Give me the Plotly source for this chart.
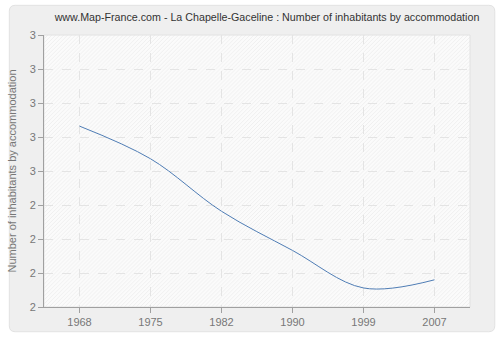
import base64
import plotly.graph_objects as go

# Census years and average number of inhabitants per accommodation
years = ["1968", "1975", "1982", "1990", "1999", "2007"]
inhabitants = [2.665, 2.545, 2.352, 2.208, 2.07, 2.10]

# Y axis ticks (labels are rounded to whole numbers)
y_ticks = [2.0, 2.125, 2.25, 2.375, 2.5, 2.625, 2.75, 2.875, 3.0]
y_labels = ["2", "2", "2", "2", "3", "3", "3", "3", "3"]

W, H = 500, 340
ML, MR, MT, MB = 40, 30, 35, 30
PW, PH = W - ML - MR, H - MT - MB
FONT = "Liberation Sans"


def px_x(px):
    return (px - ML) / PW


def px_y(py):
    return (H - MB - py) / PH


# Faint diagonal hatching for the plotting area
hatch_svg = (
    '<svg xmlns="http://www.w3.org/2000/svg" width="430" height="275">'
    '<defs><pattern id="h" width="4" height="4" patternUnits="userSpaceOnUse">'
    '<rect width="4" height="4" fill="#fbfbfb"/>'
    '<path d="M-1,1 l2,-2 M0,4 l4,-4 M3,5 l2,-2" stroke="#efefef" stroke-width="1"/>'
    '</pattern></defs><rect width="430" height="275" fill="url(#h)"/></svg>'
)
hatch_src = "data:image/svg+xml;base64," + base64.b64encode(hatch_svg.encode()).decode()

fig = go.Figure()
fig.add_trace(go.Scatter(
    x=years, y=inhabitants, mode="lines",
    line=dict(color="#4f7db5", width=1, shape="spline", smoothing=1.0),
    hoverinfo="x+y", showlegend=False,
))

# Rounded outer frame with a hole where the plotting area sits
x0, x1 = px_x(5), px_x(495)
y0, y1 = px_y(335), px_y(5)
rx, ry = 6 / PW, 6 / PH
frame = (
    f"M{x0 + rx},{y0} L{x1 - rx},{y0} Q{x1},{y0} {x1},{y0 + ry} "
    f"L{x1},{y1 - ry} Q{x1},{y1} {x1 - rx},{y1} L{x0 + rx},{y1} "
    f"Q{x0},{y1} {x0},{y1 - ry} L{x0},{y0 + ry} Q{x0},{y0} {x0 + rx},{y0} Z "
    "M0,0 L0,1 L1,1 L1,0 Z"
)

fig.update_layout(
    width=W, height=H,
    margin=dict(l=ML, r=MR, t=MT, b=MB),
    paper_bgcolor="white",
    plot_bgcolor="rgba(0,0,0,0)",
    title=dict(
        text="www.Map-France.com - La Chapelle-Gaceline : Number of inhabitants by accommodation",
        x=267 / W, xanchor="center", y=1 - 17 / H, yanchor="middle",
        font=dict(family=FONT, size=10.7, color="#333333"),
    ),
    shapes=[dict(
        type="path", path=frame, xref="paper", yref="paper", layer="below",
        fillcolor="#efefef", line=dict(color="#e2e2e2", width=1),
    )],
    images=[dict(
        source=hatch_src, xref="paper", yref="paper", x=0, y=1,
        sizex=1, sizey=1, xanchor="left", yanchor="top",
        sizing="stretch", layer="below",
    )],
    xaxis=dict(
        type="category", range=[-0.5, 5.5],
        showgrid=True, gridcolor="#e4e4e4", griddash="dash", gridwidth=1,
        showline=True, linecolor="#a0a0a0", linewidth=1,
        ticks="outside", ticklen=5, tickcolor="#a0a0a0",
        tickfont=dict(family=FONT, size=11, color="#777777"),
        zeroline=False, fixedrange=True,
    ),
    yaxis=dict(
        range=[2.0, 3.0], tickvals=y_ticks, ticktext=y_labels,
        showgrid=True, gridcolor="#e4e4e4", griddash="dash", gridwidth=1,
        showline=True, linecolor="#a0a0a0", linewidth=1,
        ticks="outside", ticklen=5, tickcolor="#a0a0a0",
        tickfont=dict(family=FONT, size=11, color="#777777"),
        title=dict(text="Number of inhabitants by accommodation", standoff=10,
                   font=dict(family=FONT, size=11, color="#777777")),
        zeroline=False, fixedrange=True,
    ),
)

fig.write_html("out.html")
